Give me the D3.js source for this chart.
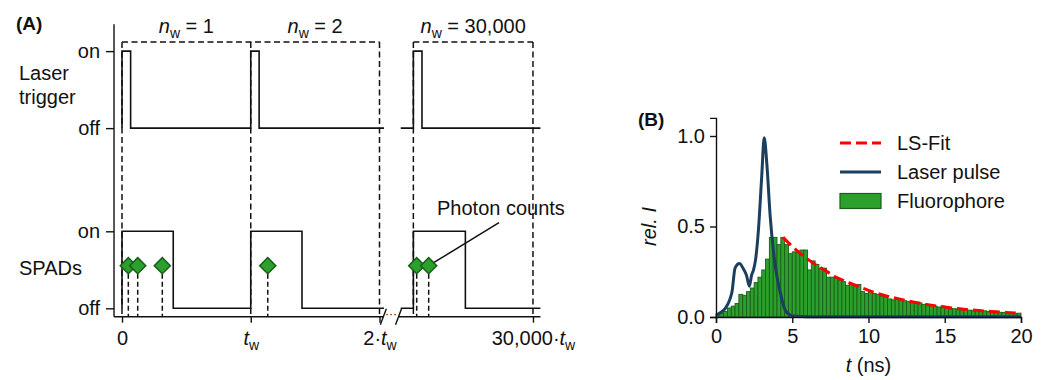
<!DOCTYPE html>
<html>
<head>
<meta charset="utf-8">
<script src="https://cdn.jsdelivr.net/npm/d3@7"></script>
<style>
  body { margin: 0; background: #fff; }
  svg text { font-family: "Liberation Sans", Arial, sans-serif; fill: #111; }
</style>
</head>
<body>
<div id="container"></div>
<script>
// ---------- Panel A data (time in units of t_w, level: SPAD off = 0, on = 1) ----------
const windowStarts = [0, 1, 2.263];
const windowEnds = [1, 2, 3.192];
const windowLabels = ["1", "2", "30,000"];

const levelValues = [3.34, 2.34, 1, 0];
const levelLabels = ["on", "off", "on", "off"];

const xTickValues = [0, 1, 2, 3.192];
const xTickPrefix = ["0", "", "2\u00b7", "30,000\u00b7"];

const laserSeg1T = [0, 0, 0.067, 0.067, 1, 1, 1.065, 1.065, 2.035];
const laserSeg1L = [2.34, 3.34, 3.34, 2.34, 2.34, 3.34, 3.34, 2.34, 2.34];
const laserSeg2T = [2.165, 2.263, 2.263, 2.33, 2.33, 3.25];
const laserSeg2L = [2.34, 2.34, 3.34, 3.34, 2.34, 2.34];

const spadSeg1T = [0, 0, 0.398, 0.398, 1, 1, 1.398, 1.398, 2.035];
const spadSeg1L = [0, 1, 1, 0, 0, 1, 1, 0, 0];
const spadSeg2T = [2.165, 2.263, 2.263, 2.667, 2.667, 3.25];
const spadSeg2L = [0, 0, 1, 1, 0, 0];

const photonTimes = [0.049, 0.122, 0.313, 1.132, 2.289, 2.382];
const photonLevel = 0.553;

// ---------- Panel B data ----------
const binWidth = 0.25;
const fluorCounts = [
  0.013, 0.02, 0.03, 0.05, 0.06, 0.075, 0.125, 0.12, 0.14, 0.16,
  0.19, 0.22, 0.26, 0.32, 0.44, 0.44, 0.40, 0.44, 0.40, 0.35,
  0.36, 0.36, 0.37, 0.37, 0.26, 0.31, 0.29, 0.27, 0.27, 0.22,
  0.22, 0.215, 0.205, 0.195, 0.175, 0.185, 0.175, 0.18, 0.14, 0.13,
  0.14, 0.13, 0.125, 0.115, 0.11, 0.10, 0.095, 0.10, 0.09, 0.09,
  0.085, 0.08, 0.075, 0.078, 0.07, 0.068, 0.066, 0.06, 0.055, 0.06,
  0.048, 0.045, 0.046, 0.042, 0.04, 0.044, 0.038, 0.035, 0.036, 0.032,
  0.034, 0.03, 0.028, 0.03, 0.026, 0.025, 0.024, 0.022, 0.02, 0.021
];
const laserT = [0, 0.3, 0.6, 0.92, 1.05, 1.25, 1.54, 1.8, 2.0, 2.19, 2.33, 2.46, 2.6, 2.79, 3.0, 3.16,
  3.33, 3.55, 3.88, 4.2, 4.54, 4.87, 5.2, 6, 10, 15, 20];
const laserI = [0.01, 0.025, 0.046, 0.1, 0.14, 0.27, 0.295, 0.265, 0.23, 0.17, 0.23, 0.26, 0.32, 0.49, 0.78, 0.99,
  0.85, 0.56, 0.285, 0.14, 0.037, 0.01, 0.004, 0.002, 0.002, 0.002, 0.002];
const fitT = [4.4, 5, 6, 7, 8, 9, 10, 11, 12, 13, 14, 15, 16, 17, 18, 19, 20];
const fitI = [0.44, 0.39, 0.32, 0.265, 0.215, 0.18, 0.147, 0.12, 0.1, 0.082, 0.067, 0.055, 0.045, 0.037, 0.031, 0.025, 0.021];
const xTicksB = [0, 5, 10, 15, 20];
const yTicksB = [0, 0.5, 1.0];
const legendLabels = ["LS-Fit", "Laser pulse", "Fluorophore"];

//Declare chart dimensions
const width = 1048;
const height = 380;
const fontSize = 20;

const svg = d3.select("#container")
  .append("svg")
  .attr("width", width)
  .attr("height", height);

// ===================== Panel A =====================
const xA = d3.scaleLinear().domain([0, 1]).range([122, 250.75]);
const yA = d3.scaleLinear().domain([0, 1]).range([308.3, 231.3]);
const axisLeftT = -0.062;
const axisBottomL = -0.109;
const boxTopL = 3.46;

const gA = svg.append("g");

//y axis with on/off ticks
const yAxisA = d3.axisLeft(yA)
  .tickValues(levelValues)
  .tickFormat((d, i) => levelLabels[i])
  .tickSize(8)
  .tickPadding(6);
gA.append("g")
  .attr("transform", `translate(${xA(axisLeftT)},0)`)
  .call(yAxisA)
  .call(g => g.select(".domain").remove())
  .call(g => g.selectAll("line").attr("stroke", "#111").attr("stroke-width", 1.4))
  .call(g => g.selectAll("text").attr("font-size", fontSize).attr("fill", "#111"));
gA.append("line")
  .attr("x1", xA(axisLeftT)).attr("x2", xA(axisLeftT))
  .attr("y1", yA(3.69)).attr("y2", yA(axisBottomL))
  .attr("stroke", "#111").attr("stroke-width", 1.4);

//x axis (broken)
const xAxisA = d3.axisBottom(xA)
  .tickValues(xTickValues)
  .tickFormat("")
  .tickSize(6)
  .tickPadding(8);
const xAxisG = gA.append("g")
  .attr("transform", `translate(0,${yA(axisBottomL)})`)
  .call(xAxisA)
  .call(g => g.select(".domain").remove())
  .call(g => g.selectAll("line").attr("stroke", "#111").attr("stroke-width", 1.4));
xAxisG.selectAll(".tick text")
  .attr("font-size", fontSize)
  .attr("fill", "#111")
  .each(function (d, i) {
    const t = d3.select(this);
    t.text(null);
    t.append("tspan").text(xTickPrefix[i]);
    if (i > 0) {
      t.append("tspan").attr("font-style", "italic").text("t");
      t.append("tspan").attr("font-size", 14).attr("dy", 5).text("w");
    }
  });
[[axisLeftT, 2.03], [2.148, 3.25]].forEach(s => {
  gA.append("line")
    .attr("x1", xA(s[0])).attr("x2", xA(s[1]))
    .attr("y1", yA(axisBottomL)).attr("y2", yA(axisBottomL))
    .attr("stroke", "#111").attr("stroke-width", 1.4);
});
[2.03, 2.148].forEach(t => {
  gA.append("line")
    .attr("x1", xA(t) - 3).attr("x2", xA(t) + 3)
    .attr("y1", yA(axisBottomL) + 8).attr("y2", yA(axisBottomL) - 8)
    .attr("stroke", "#111").attr("stroke-width", 1.4);
});
gA.append("text")
  .attr("x", xA(2.089)).attr("y", yA(axisBottomL) + 1)
  .attr("text-anchor", "middle")
  .attr("font-size", 12)
  .text("\u00b7\u00b7\u00b7");

//dashed window boxes
const dash = "6,3.5";
const boxes = [[windowStarts[0], windowEnds[1]], [windowStarts[2], windowEnds[2]]];
boxes.forEach(b => {
  gA.append("line")
    .attr("x1", xA(b[0])).attr("x2", xA(b[1]))
    .attr("y1", yA(boxTopL)).attr("y2", yA(boxTopL))
    .attr("stroke", "#111").attr("stroke-width", 1.5).attr("stroke-dasharray", dash);
});
const boundaries = [windowStarts[0], windowStarts[1], windowEnds[1], windowStarts[2], windowEnds[2]];
gA.selectAll(".wline")
  .data(boundaries)
  .enter()
  .append("line")
  .attr("x1", d => xA(d)).attr("x2", d => xA(d))
  .attr("y1", yA(boxTopL)).attr("y2", yA(axisBottomL))
  .attr("stroke", "#111").attr("stroke-width", 1.5).attr("stroke-dasharray", dash);

//window labels n_w = ...
windowStarts.forEach((s, i) => {
  const t = gA.append("text")
    .attr("x", xA((s + windowEnds[i]) / 2))
    .attr("y", 33)
    .attr("text-anchor", "middle")
    .attr("font-size", fontSize);
  t.append("tspan").attr("font-style", "italic").text("n");
  t.append("tspan").attr("font-size", 14).attr("dy", 5).text("w");
  t.append("tspan").attr("dy", -5).text(" = " + windowLabels[i]);
});

//traces
const traceLine = d3.line().x(d => xA(d[0])).y(d => yA(d[1]));
[[laserSeg1T, laserSeg1L], [laserSeg2T, laserSeg2L], [spadSeg1T, spadSeg1L], [spadSeg2T, spadSeg2L]]
  .forEach(s => {
    gA.append("path")
      .datum(s[0].map((t, i) => [t, s[1][i]]))
      .attr("d", traceLine)
      .attr("fill", "none")
      .attr("stroke", "#111")
      .attr("stroke-width", 1.6);
  });

//photon counts
gA.selectAll(".drop")
  .data(photonTimes)
  .enter()
  .append("line")
  .attr("x1", d => xA(d)).attr("x2", d => xA(d))
  .attr("y1", yA(photonLevel)).attr("y2", yA(axisBottomL))
  .attr("stroke", "#111").attr("stroke-width", 1.5).attr("stroke-dasharray", "5,3");
gA.append("line")
  .attr("x1", 499).attr("y1", 222.7)
  .attr("x2", xA(photonTimes[5])).attr("y2", yA(photonLevel))
  .attr("stroke", "#111").attr("stroke-width", 1.5);
gA.selectAll(".photon")
  .data(photonTimes)
  .enter()
  .append("path")
  .attr("d", d3.symbol().type(d3.symbolSquare).size(130))
  .attr("transform", d => `translate(${xA(d)},${yA(photonLevel)}) rotate(45)`)
  .attr("fill", "#2ca02c")
  .attr("stroke", "#1a5e1a")
  .attr("stroke-width", 1.5);
gA.append("text")
  .attr("x", 437).attr("y", 215)
  .attr("font-size", fontSize)
  .text("Photon counts");

//row labels
gA.append("text").attr("x", 19).attr("y", 80).attr("font-size", fontSize).text("Laser");
gA.append("text").attr("x", 19).attr("y", 104).attr("font-size", fontSize).text("trigger");
gA.append("text").attr("x", 19).attr("y", 275).attr("font-size", fontSize).text("SPADs");
gA.append("text").attr("x", 16).attr("y", 30).attr("font-size", 19).attr("font-weight", "bold").text("(A)");

// ===================== Panel B =====================
const xB = d3.scaleLinear().domain([0, 20]).range([716, 1021]);
const yB = d3.scaleLinear().domain([0, 1.1]).range([317, 117.9]);
const gB = svg.append("g");

//histogram
gB.selectAll(".bar")
  .data(fluorCounts)
  .enter()
  .append("rect")
  .attr("class", "bar")
  .attr("x", (d, i) => xB(i * binWidth))
  .attr("y", d => yB(d))
  .attr("width", (d, i) => xB((i + 1) * binWidth) - xB(i * binWidth))
  .attr("height", d => yB(0) - yB(d))
  .attr("fill", "#2ca02c")
  .attr("stroke", "#1a5e1a")
  .attr("stroke-width", 0.9);

//laser pulse
const lineB = d3.line().x(d => xB(d[0])).y(d => yB(d[1])).curve(d3.curveMonotoneX);
gB.append("path")
  .datum(laserT.map((t, i) => [t, laserI[i]]))
  .attr("d", lineB)
  .attr("fill", "none")
  .attr("stroke", "#1b3f5f")
  .attr("stroke-width", 3);

//fit
gB.append("path")
  .datum(fitT.map((t, i) => [t, fitI[i]]))
  .attr("d", lineB)
  .attr("fill", "none")
  .attr("stroke", "#ff0000")
  .attr("stroke-width", 3)
  .attr("stroke-dasharray", "11,5");

//axes
gB.append("g")
  .attr("transform", `translate(0,${yB(0)})`)
  .call(d3.axisBottom(xB).tickValues(xTicksB).tickSizeOuter(0).tickSize(6).tickPadding(6))
  .call(g => g.selectAll("line, path").attr("stroke", "#111").attr("stroke-width", 1.4))
  .call(g => g.selectAll("text").attr("font-size", fontSize).attr("fill", "#111"));
gB.append("g")
  .attr("transform", `translate(${xB(0)},0)`)
  .call(d3.axisLeft(yB).tickValues(yTicksB).tickFormat(d3.format(".1f")).tickSizeOuter(0).tickSize(6).tickPadding(5))
  .call(g => g.selectAll("line, path").attr("stroke", "#111").attr("stroke-width", 1.4))
  .call(g => g.selectAll("text").attr("font-size", fontSize).attr("fill", "#111"));

//axis labels
const xl = gB.append("text")
  .attr("x", (xB(0) + xB(20)) / 2).attr("y", 372)
  .attr("text-anchor", "middle")
  .attr("font-size", fontSize);
xl.append("tspan").attr("font-style", "italic").text("t");
xl.append("tspan").text(" (ns)");
gB.append("text")
  .attr("transform", `translate(656,${yB(0.5)}) rotate(-90)`)
  .attr("text-anchor", "middle")
  .attr("font-size", fontSize)
  .attr("font-style", "italic")
  .text("rel. I");
gB.append("text").attr("x", 638).attr("y", 126).attr("font-size", 19).attr("font-weight", "bold").text("(B)");

//legend
const legY = [143, 172, 201];
gB.append("line").attr("x1", 840).attr("x2", 881).attr("y1", legY[0]).attr("y2", legY[0])
  .attr("stroke", "#ff0000").attr("stroke-width", 3).attr("stroke-dasharray", "11,5");
gB.append("line").attr("x1", 840).attr("x2", 881).attr("y1", legY[1]).attr("y2", legY[1])
  .attr("stroke", "#1b3f5f").attr("stroke-width", 3);
gB.append("rect").attr("x", 840).attr("y", legY[2] - 7.5).attr("width", 41).attr("height", 15)
  .attr("fill", "#2ca02c").attr("stroke", "#1a5e1a").attr("stroke-width", 1.2);
gB.selectAll(".leg")
  .data(legendLabels)
  .enter()
  .append("text")
  .attr("x", 897)
  .attr("y", (d, i) => legY[i] + 7)
  .attr("font-size", fontSize)
  .text(d => d);
</script>
</body>
</html>
